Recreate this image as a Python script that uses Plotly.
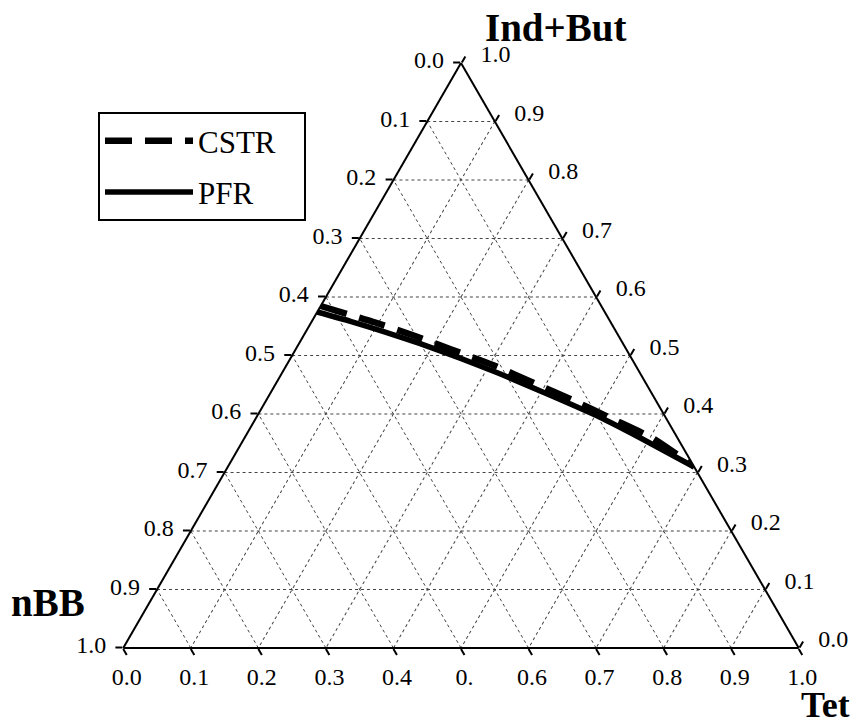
import plotly.graph_objects as go

# ---- data (mole fractions) ----
tick_vals = [0.0, 0.1, 0.2, 0.3, 0.4, 0.5, 0.6, 0.7, 0.8, 0.9, 1.0]
left_labels = ["1.0", "0.9", "0.8", "0.7", "0.6", "0.5", "0.4", "0.3", "0.2", "0.1", "0.0"]   # nBB on left edge
bottom_labels = ["1.0", "0.9", "0.8", "0.7", "0.6", "0.", "0.4", "0.3", "0.2", "0.1", "0.0"]  # Tet on bottom edge
right_labels = ["1.0", "0.9", "0.8", "0.7", "0.6", "0.5", "0.4", "0.3", "0.2", "0.1", "0.0"]  # Ind+But on right edge

cstr_ind_but = [0.5846, 0.5564, 0.5333, 0.5111, 0.4838, 0.4538, 0.4239, 0.3915, 0.3590, 0.3111]
cstr_nbb     = [0.4154, 0.3486, 0.3012, 0.2607, 0.2109, 0.1670, 0.1229, 0.0800, 0.0373, 0.0000]
cstr_tet     = [0.0000, 0.0950, 0.1655, 0.2282, 0.3053, 0.3792, 0.4532, 0.5285, 0.6037, 0.6889]

pfr_ind_but = [0.5744, 0.5585, 0.5400, 0.5202, 0.4954, 0.4687, 0.4325, 0.3949, 0.3573, 0.3094]
pfr_nbb     = [0.4256, 0.3844, 0.3422, 0.3003, 0.2537, 0.2081, 0.1525, 0.0976, 0.0529, 0.0000]
pfr_tet     = [0.0000, 0.0571, 0.1178, 0.1795, 0.2509, 0.3232, 0.4150, 0.5075, 0.5898, 0.6906]

FONT = "Liberation Serif"
W, H = 852, 726
NB = "\u00a0"

fig = go.Figure()
fig.add_trace(go.Scatterternary(
    a=cstr_ind_but, b=cstr_nbb, c=cstr_tet, mode="lines", name="CSTR" + NB * 3,
    line=dict(color="black", width=6.5, dash="27px,13px", shape="spline", smoothing=0.5),
    legendgroup="g1"))
fig.add_trace(go.Scatterternary(
    a=pfr_ind_but, b=pfr_nbb, c=pfr_tet, mode="lines", name="PFR",
    line=dict(color="black", width=5.5, shape="spline", smoothing=0.5),
    legendgroup="g2"))

def axis(labels):
    return dict(
        title=dict(text=""), min=0,
        tickmode="array", tickvals=tick_vals, ticktext=labels,
        ticks="outside", ticklen=7, tickwidth=1.5, tickcolor="black",
        linecolor="black", linewidth=2, showline=True,
        showgrid=True, gridcolor="#444444", gridwidth=1, griddash="dot",
        tickfont=dict(family=FONT, size=24, color="black"),
    )

fig.update_layout(
    width=W, height=H,
    margin=dict(l=0, r=0, t=0, b=0),
    paper_bgcolor="white",
    ternary=dict(
        sum=1, bgcolor="white",
        domain=dict(x=[122 / W, 800 / W], y=[1 - 648 / H, 1 - 63 / H]),
        aaxis=axis([t + NB for t in left_labels]),
        baxis=axis(bottom_labels),
        caxis=axis([NB + NB + t for t in right_labels]),
    ),
    showlegend=True,
    legend=dict(
        x=98 / W, y=1 - 112 / H, xanchor="left", yanchor="top",
        bordercolor="black", borderwidth=2, bgcolor="white",
        font=dict(family=FONT, size=31, color="black"),
        itemwidth=88, traceorder="grouped", tracegroupgap=8,
    ),
    annotations=[
        dict(text="<b>Ind+But</b>", x=555 / W, y=1 - 28 / H, xref="paper", yref="paper",
             xanchor="center", yanchor="middle",
             showarrow=False, font=dict(family=FONT, size=39, color="black")),
        dict(text="<b>nBB</b>", x=48 / W, y=1 - 602 / H, xref="paper", yref="paper",
             xanchor="center", yanchor="middle",
             showarrow=False, font=dict(family=FONT, size=39, color="black")),
        dict(text="<b>Tet</b>", x=825 / W, y=0.0, xref="paper", yref="paper",
             xanchor="center", yanchor="bottom", height=32, valign="bottom", borderpad=0,
             showarrow=False, font=dict(family=FONT, size=36, color="black")),
    ],
)

fig.write_html("out.html")
